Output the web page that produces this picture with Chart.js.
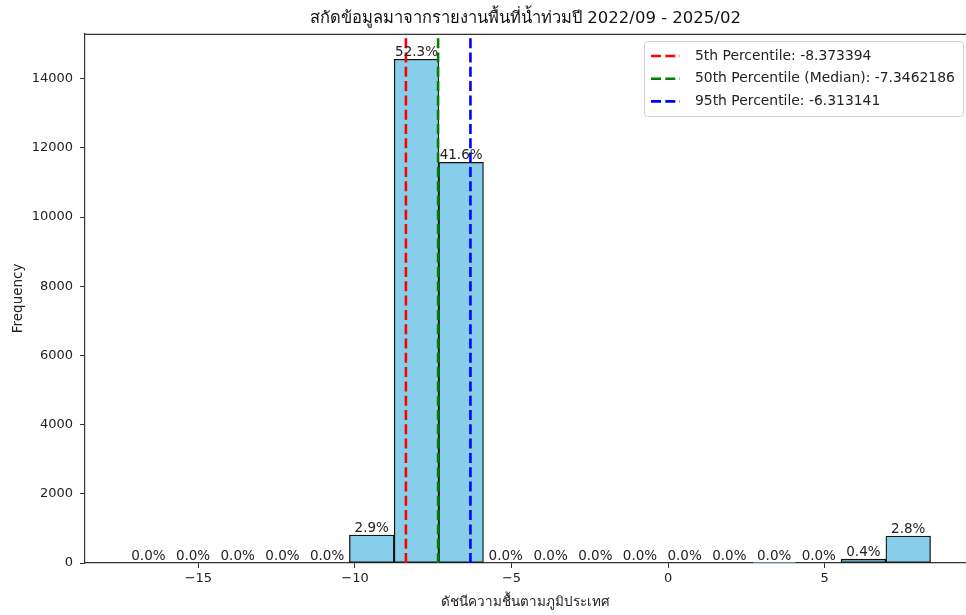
<!DOCTYPE html>
<html>
<head>
<meta charset="utf-8">
<script src="https://cdn.jsdelivr.net/npm/chart.js@4/dist/chart.umd.min.js"></script>
<style>
  html, body { margin: 0; padding: 0; background: #fff; overflow: hidden; }
  canvas { display: block; }
</style>
</head>
<body>
<canvas id="chart" width="966" height="615"></canvas>
<script>
// histogram bins (edges) and counts
const binEdges = [-17.31, -15.88, -14.46, -13.03, -11.60, -10.18, -8.75, -7.32, -5.90,
  -4.47, -3.04, -1.61, -0.19, 1.24, 2.67, 4.10, 5.52, 6.95, 8.38];
const counts = [0, 0, 0, 0, 0, 808, 14565, 11585, 0, 0, 0, 0, 0, 0, 4, 0, 111, 780];

const percentileLabels = ["5th Percentile: -8.373394", "50th Percentile (Median): -7.3462186", "95th Percentile: -6.313141"];
const percentileValues = [-8.373394, -7.3462186, -6.313141];
const percentileColors = ["#ff0000", "#008000", "#0000ff"];

const xTicks = [-15, -10, -5, 0, 5];
const yTicks = [0, 2000, 4000, 6000, 8000, 10000, 12000, 14000];

const titleText = "สกัดข้อมูลมาจากรายงานพื้นที่น้ำท่วมปี 2022/09 - 2025/02";
const xTitle = "ดัชนีความชื้นตามภูมิประเทศ";
const yTitle = "Frequency";

const FONT = "Tahoma, 'DejaVu Sans', sans-serif";
const total = counts.reduce((a, b) => a + b, 0);
const yMax = 15300;

const barData = counts.map((c, i) => ({ x: (binEdges[i] + binEdges[i + 1]) / 2, y: c }));

const lineSets = percentileValues.map((v, i) => ({
  type: "line",
  label: percentileLabels[i],
  data: [{ x: v, y: 0 }, { x: v, y: yMax }],
  borderColor: percentileColors[i],
  borderWidth: 2.6,
  borderDash: [10, 4.3],
  pointRadius: 0,
  order: 1,
}));

const extras = {
  id: "extras",
  afterDatasetsDraw(chart) {
    const { ctx, chartArea, scales } = chart;
    ctx.save();
    // top spine
    ctx.strokeStyle = "#333";
    ctx.lineWidth = 1.2;
    ctx.beginPath();
    ctx.moveTo(chartArea.left, chartArea.top + 0.5);
    ctx.lineTo(chartArea.right, chartArea.top + 0.5);
    ctx.stroke();

    // percent labels on bars
    ctx.fillStyle = "#222";
    ctx.font = "13.5px " + FONT;
    ctx.textAlign = "center";
    ctx.textBaseline = "bottom";
    counts.forEach((c, i) => {
      const cx = scales.x.getPixelForValue((binEdges[i] + binEdges[i + 1]) / 2);
      const top = scales.y.getPixelForValue(c);
      ctx.fillText((c / total * 100).toFixed(1) + "%", cx, top);
    });

    // legend box
    const bx = 644, by = 41, bw = 319, bh = 75;
    ctx.fillStyle = "rgba(255,255,255,0.85)";
    ctx.strokeStyle = "#d0d0d0";
    ctx.lineWidth = 1;
    ctx.beginPath();
    ctx.roundRect(bx + 0.5, by + 0.5, bw, bh, 3);
    ctx.fill();
    ctx.stroke();
    ctx.font = "13.9px " + FONT;
    ctx.textAlign = "left";
    ctx.textBaseline = "middle";
    percentileLabels.forEach((t, i) => {
      const ry = by + 15 + i * 22.7;
      ctx.strokeStyle = percentileColors[i];
      ctx.lineWidth = 2.6;
      ctx.setLineDash([10, 4.3]);
      ctx.beginPath();
      ctx.moveTo(651, ry);
      ctx.lineTo(680, ry);
      ctx.stroke();
      ctx.setLineDash([]);
      ctx.fillStyle = "#222";
      ctx.fillText(t, 695, ry);
    });
    ctx.restore();
  },
};

new Chart(document.getElementById("chart"), {
  type: "bar",
  data: {
    datasets: [
      ...lineSets,
      {
        type: "bar",
        label: "hist",
        data: barData,
        backgroundColor: "#87ceeb",
        borderColor: "#111",
        borderWidth: 1.3,
        borderSkipped: false,
        barPercentage: 1,
        categoryPercentage: 1,
        order: 2,
      },
    ],
  },
  options: {
    responsive: false,
    animation: false,
    layout: { padding: { top: 0, right: 0, bottom: 0, left: 0 } },
    plugins: {
      legend: { display: false },
      tooltip: { enabled: false },
      title: {
        display: true,
        text: titleText,
        fullSize: false,
        color: "#111",
        font: { family: FONT, size: 16.5, weight: "normal" },
        padding: { top: 9, bottom: 5 },
      },
    },
    scales: {
      x: {
        type: "linear",
        offset: false,
        min: -18.62,
        max: 9.51,
        afterBuildTicks: (s) => { s.ticks = xTicks.map((v) => ({ value: v })); },
        afterFit: (s) => { s.height = 52; },
        grid: { display: true, offset: false, drawOnChartArea: false, drawTicks: true, tickLength: 5, color: "#333" },
        border: { display: true, color: "#333", width: 1.2 },
        ticks: {
          color: "#222",
          padding: 3,
          maxRotation: 0,
          font: { family: FONT, size: 13 },
          callback: (v) => String(v).replace("-", "\u2212"),
        },
        title: {
          display: true,
          text: xTitle,
          color: "#222",
          font: { family: FONT, size: 13.5 },
          padding: { top: 0, bottom: 4 },
        },
      },
      y: {
        min: 0,
        max: yMax,
        afterBuildTicks: (s) => { s.ticks = yTicks.map((v) => ({ value: v })); },
        afterFit: (s) => { s.width = 85; },
        grid: { display: true, drawOnChartArea: false, drawTicks: true, tickLength: 5, color: "#333" },
        border: { display: true, color: "#333", width: 1.2 },
        ticks: {
          color: "#222",
          padding: 7,
          font: { family: FONT, size: 13 },
          callback: (v) => String(v),
        },
        title: {
          display: true,
          text: yTitle,
          color: "#222",
          font: { family: FONT, size: 13.5 },
          padding: { top: 10, bottom: 0 },
        },
      },
    },
  },
  plugins: [extras],
});
</script>
</body>
</html>
